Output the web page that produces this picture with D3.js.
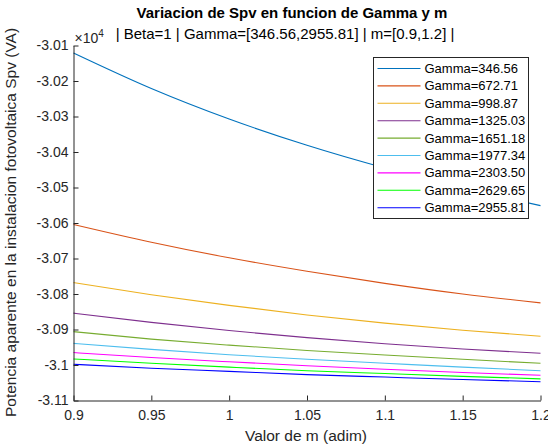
<!DOCTYPE html>
<html>
<head>
<meta charset="utf-8">
<script src="https://cdn.jsdelivr.net/npm/d3@7"></script>
<style>
	body { margin: 0; background: #ffffff; }
	svg { font-family: 'Liberation Sans', Arial, sans-serif; }
	.spv-axis path, .spv-axis line { stroke: #262626; }
	.spv-axis text { fill: #262626; font-size: 14px; }
</style>
</head>
<body>
<svg id="chart" width="548" height="448"></svg>
<script>

// valores de m (adim)
var aM = [0.9, 0.95, 1.0, 1.05, 1.1, 1.15, 1.2];

// Spv en unidades de x10^4 VA, una curva por Gamma
var aSpv_346 = [-3.0121, -3.0221, -3.0307, -3.0381, -3.0445, -3.0501, -3.0551];
var aSpv_672 = [-3.0604, -3.0654, -3.0698, -3.0736, -3.0770, -3.0800, -3.0825];
var aSpv_998 = [-3.0768, -3.0802, -3.0832, -3.0859, -3.0882, -3.0902, -3.0919];
var aSpv_1325 = [-3.0854, -3.0880, -3.0903, -3.0923, -3.0940, -3.0955, -3.0967];
var aSpv_1651 = [-3.0906, -3.0927, -3.0944, -3.0959, -3.0972, -3.0984, -3.0995];
var aSpv_1977 = [-3.0939, -3.0956, -3.0971, -3.0984, -3.0995, -3.1006, -3.1016];
var aSpv_2303 = [-3.0965, -3.0979, -3.0991, -3.1002, -3.1012, -3.1021, -3.1029];
var aSpv_2629 = [-3.0983, -3.0995, -3.1006, -3.1016, -3.1024, -3.1032, -3.1039];
var aSpv_2955 = [-3.0998, -3.1009, -3.1018, -3.1027, -3.1034, -3.1041, -3.1047];

var aGammaNames = ['Gamma=346.56', 'Gamma=672.71', 'Gamma=998.87', 'Gamma=1325.03', 'Gamma=1651.18',
	'Gamma=1977.34', 'Gamma=2303.50', 'Gamma=2629.65', 'Gamma=2955.81'];

var aColors = ['#0072bd', '#d95319', '#edb120', '#7e2f8e', '#77ac30', '#4dbeee', '#ff00ff', '#00ff00', '#0000ff'];

var aTicksX = [0.9, 0.95, 1.0, 1.05, 1.1, 1.15, 1.2];
var aTicksY = [-3.01, -3.02, -3.03, -3.04, -3.05, -3.06, -3.07, -3.08, -3.09, -3.1, -3.11];


function D3_SpvChart(vSelector)
{
	var sSvg = d3.select(vSelector);
	if (sSvg.empty() == true)
	{
		console.log('D3_SpvChart: no element for ' + vSelector);
		return;
	}

	var aSeries = [aSpv_346, aSpv_672, aSpv_998, aSpv_1325, aSpv_1651, aSpv_1977, aSpv_2303, aSpv_2629, aSpv_2955];

	var nBorderLeft = 73;
	var nBorderTop = 45;
	var nChartWidth = 540 - nBorderLeft;
	var nChartHeight = 400 - nBorderTop;

	var scaleX = d3.scaleLinear()
		.domain([0.9, 1.2])
		.range([0, nChartWidth]);

	var scaleY = d3.scaleLinear()
		.domain([-3.11, -3.01])
		.range([nChartHeight, 0]);

	var sChart = sSvg.append('g')
		.attr('transform', 'translate(' + (nBorderLeft + 0.5) + ',' + (nBorderTop + 0.5) + ')');

	// lineas
	var line = d3.line()
		.x(function(d, i) { return scaleX(aM[i]); })
		.y(function(d) { return scaleY(d); })
		.curve(d3.curveMonotoneX);

	sChart.selectAll('.spv-line')
		.data(aSeries)
		.enter()
			.append('path')
				.attr('class', 'spv-line')
				.attr('fill', 'none')
				.attr('stroke-width', 1.1)
				.attr('stroke', function(d, i) { return aColors[i]; })
				.attr('d', line);

	// etiquetas con guion normal, como en MATLAB
	function FormatTick(v)
	{
		return String(+v.toFixed(2));
	}

	// ejes (ticks hacia dentro)
	var axisX = d3.axisBottom(scaleX)
		.tickValues(aTicksX)
		.tickSizeInner(-5)
		.tickSizeOuter(0)
		.tickPadding(12)
		.tickFormat(FormatTick);

	var axisY = d3.axisLeft(scaleY)
		.tickValues(aTicksY)
		.tickSizeInner(-5)
		.tickSizeOuter(0)
		.tickPadding(10)
		.tickFormat(FormatTick);

	var sAxisX = sChart.append('g')
		.attr('class', 'spv-axis')
		.attr('transform', 'translate(0,' + nChartHeight + ')')
		.call(axisX);
	sAxisX.selectAll('text').attr('dy', '0.71em').attr('y', 10);

	var sAxisY = sChart.append('g')
		.attr('class', 'spv-axis')
		.call(axisY);
	sAxisY.selectAll('text').attr('x', -5);

	// exponente
	var sExp = sChart.append('text')
		.attr('x', 1)
		.attr('y', -3)
		.attr('fill', '#262626')
		.style('font-size', '14px');
	sExp.append('tspan').text('\u00d710');
	sExp.append('tspan').attr('dy', -6).style('font-size', '10px').text('4');

	// leyenda
	var nLegX = 373, nLegY = 57, nLegW = 155, nLegH = 161, nRowH = 17.4;
	var sLegend = sSvg.append('g')
		.attr('transform', 'translate(' + (nLegX + 0.5) + ',' + (nLegY + 0.5) + ')');
	sLegend.append('rect')
		.attr('width', nLegW)
		.attr('height', nLegH)
		.attr('fill', '#ffffff')
		.attr('stroke', '#262626')
		.attr('stroke-width', 1);

	var sRows = sLegend.selectAll('.spv-legend-row')
		.data(aGammaNames)
		.enter()
			.append('g')
				.attr('class', 'spv-legend-row')
				.attr('transform', function(d, i) { return 'translate(0,' + (11 + i * nRowH) + ')'; });
	sRows.append('line')
		.attr('x1', 4).attr('x2', 47)
		.attr('stroke-width', 1.1)
		.attr('stroke', function(d, i) { return aColors[i]; });
	sRows.append('text')
		.attr('x', 51)
		.attr('dy', '0.35em')
		.attr('fill', '#000000')
		.style('font-size', '13px')
		.text(function(d) { return d; });

	// titulos
	sSvg.append('text')
		.attr('x', 292).attr('y', 18)
		.attr('text-anchor', 'middle')
		.style('font-size', '15px')
		.style('font-weight', 'bold')
		.text('Variacion de Spv en funcion de Gamma y m');
	sSvg.append('text')
		.attr('x', 285).attr('y', 38.5)
		.attr('text-anchor', 'middle')
		.style('font-size', '15px')
		.text('| Beta=1 | Gamma=[346.56,2955.81] | m=[0.9,1.2] |');

	sSvg.append('text')
		.attr('x', 306).attr('y', 441)
		.attr('text-anchor', 'middle')
		.attr('fill', '#262626')
		.style('font-size', '15.5px')
		.text('Valor de m (adim)');
	sSvg.append('text')
		.attr('transform', 'translate(16,222.5) rotate(-90)')
		.attr('text-anchor', 'middle')
		.attr('fill', '#262626')
		.style('font-size', '15.5px')
		.text('Potencia aparente en la instalacion fotovoltaica Spv (VA)');
}

D3_SpvChart('#chart');

</script>
</body>
</html>
